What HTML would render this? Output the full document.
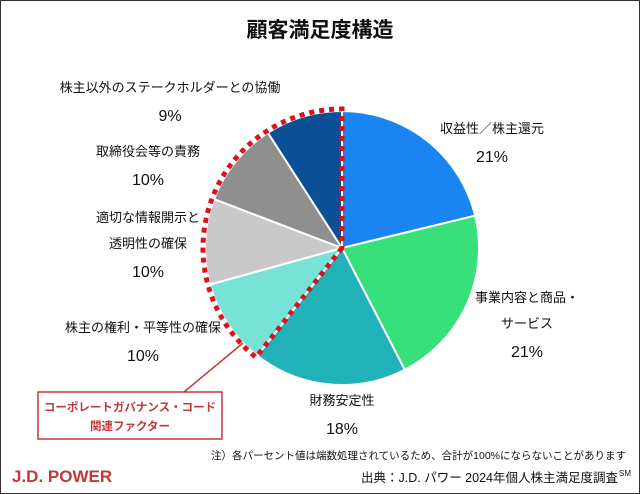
<!DOCTYPE html>
<html><head><meta charset="utf-8"><style>
body{margin:0;background:#fff}
svg{display:block}
text{font-family:"Liberation Sans","Noto Sans CJK JP",sans-serif;fill:#111}
</style></head><body>
<svg width="640" height="494" viewBox="0 0 640 494">
<rect x="0.5" y="0.5" width="639" height="493" fill="#fff" stroke="#333" stroke-width="1"/>
<text x="320" y="37" text-anchor="middle" font-size="21" font-weight="bold">顧客満足度構造</text>
<g id="pie"></g>
<g id="labels"></g>
<line x1="243" y1="343" x2="184" y2="392" stroke="#c0393b" stroke-width="1.5"/>
<rect x="38" y="392" width="184" height="47" fill="#fff" stroke="#c0393b" stroke-width="1.5"/>
<text x="130" y="411" text-anchor="middle" font-size="11.5" font-weight="bold" style="fill:#c0393b">コーポレートガバナンス・コード</text>
<text x="130" y="430" text-anchor="middle" font-size="11.5" font-weight="bold" style="fill:#c0393b">関連ファクター</text>
<text x="626" y="459" text-anchor="end" font-size="10.5">注）各パーセント値は端数処理されているため、合計が100%にならないことがあります</text>
<text x="618" y="482" text-anchor="end" font-size="12.5">出典：J.D. パワー 2024年個人株主満足度調査</text>
<text x="619" y="476" font-size="8">SM</text>
<text x="12" y="482" font-size="17" font-weight="bold" style="fill:#c0393b">J.D. POWER</text>
</svg>
<script>
const categories=["収益性／株主還元","事業内容と商品・サービス","財務安定性","株主の権利・平等性の確保","適切な情報開示と透明性の確保","取締役会等の責務","株主以外のステークホルダーとの協働"];
const values=[21,21,18,10,10,10,9];
const colors=["#1a85f0","#37e07a","#20b2b8","#76e3d6","#c9c9c9","#8f8f8f","#0b4f96"];
const labelLines=[["収益性／株主還元"],["事業内容と商品・","サービス"],["財務安定性"],["株主の権利・平等性の確保"],["適切な情報開示と","透明性の確保"],["取締役会等の責務"],["株主以外のステークホルダーとの協働"]];
const labelPos=[[492,133],[527,302],[342,405],[143,332],[148,222],[148,156],[170,92]];
const cx=342,cy=248,r=137;
const NS="http://www.w3.org/2000/svg";
const pie=document.getElementById('pie'),lab=document.getElementById('labels');
const total=values.reduce((a,b)=>a+b,0);
function pt(a,rr){return [cx+rr*Math.sin(a),cy-rr*Math.cos(a)];}
let a0=0;const starts=[];
values.forEach((v,i)=>{
  const a1=a0+v/total*2*Math.PI;starts.push(a0);
  const p0=pt(a0,r),p1=pt(a1,r);
  const p=document.createElementNS(NS,'path');
  p.setAttribute('d',`M${cx},${cy}L${p0[0]},${p0[1]}A${r},${r} 0 ${a1-a0>Math.PI?1:0} 1 ${p1[0]},${p1[1]}Z`);
  p.setAttribute('fill',colors[i]);p.setAttribute('stroke','#fff');p.setAttribute('stroke-width','2');
  
  
  pie.appendChild(p);a0=a1;
  const [lx,ly]=labelPos[i];
  labelLines[i].forEach((t,j)=>{
    const tx=document.createElementNS(NS,'text');
    tx.setAttribute('x',lx);tx.setAttribute('y',ly+j*26);tx.setAttribute('text-anchor','middle');tx.setAttribute('font-size','13');
    tx.textContent=t;
    
    
    lab.appendChild(tx);
  });
  const pc=document.createElementNS(NS,'text');
  pc.setAttribute('x',lx);pc.setAttribute('y',ly+labelLines[i].length*26+3);pc.setAttribute('text-anchor','middle');pc.setAttribute('font-size','16');
  pc.textContent=v+'%';
  
  
  lab.appendChild(pc);
});
const s=starts[3],rr=r+2;const q0=pt(s,rr);
const d=document.createElementNS(NS,'path');
d.setAttribute('d',`M${cx},${cy}L${q0[0]},${q0[1]}A${rr},${rr} 0 0 1 ${cx},${cy-rr}Z`);
d.setAttribute('fill','none');d.setAttribute('stroke','#d9141b');d.setAttribute('stroke-width','5');d.setAttribute('stroke-dasharray','5 5');


pie.appendChild(d);
</script>
</body></html>
